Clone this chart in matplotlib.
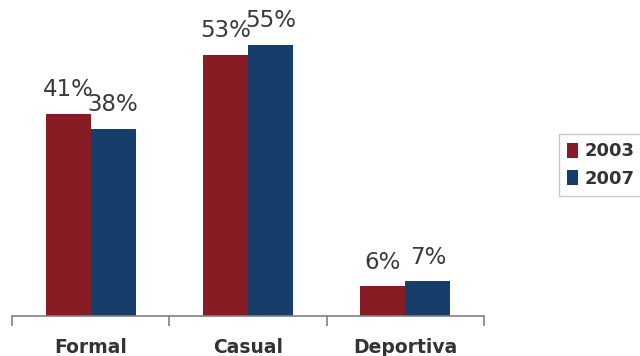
import numpy as np
import matplotlib.pyplot as plt

categories = ["Formal", "Casual", "Deportiva"]
years = ["2003", "2007"]
values_2003 = [41, 53, 6]
values_2007 = [38, 55, 7]
colors = ["#871c24", "#173d6b"]

fig = plt.figure(figsize=(6.4, 3.56), dpi=100)
ax = fig.add_axes([12 / 640, 40 / 356, 472 / 640, 296 / 356])

x = np.arange(len(categories))
w = 0.286
bars_a = ax.bar(x - w / 2, values_2003, w, color=colors[0], label=years[0])
bars_b = ax.bar(x + w / 2, values_2007, w, color=colors[1], label=years[1])

for bars in (bars_a, bars_b):
    for b in bars:
        ax.annotate(f"{b.get_height():.0f}%", (b.get_x() + b.get_width() / 2, b.get_height()),
                    xytext=(0, 9), textcoords="offset points", ha="center", va="bottom",
                    fontsize=16.5, color="#3a3a3a")

ax.set_xlim(-0.5, 2.5)
ax.set_ylim(0, 60)
ax.set_yticks([])
for s in ("top", "right", "left"):
    ax.spines[s].set_visible(False)
ax.spines["bottom"].set_color("#808080")
ax.spines["bottom"].set_linewidth(1.2)

# boundary ticks between categories
ax.set_xticks([-0.5, 0.5, 1.5, 2.5])
ax.set_xticklabels([])
ax.tick_params(axis="x", direction="out", length=7, width=1.2, color="#808080")
for i, c in enumerate(categories):
    ax.text(i, -0.105, c, transform=ax.get_xaxis_transform(), ha="center", va="center",
            fontsize=13.5, fontweight="bold", color="#333333")

leg = fig.legend(loc="center left", bbox_to_anchor=(559 / 640, 1 - 165 / 356),
                 borderaxespad=0, frameon=True, fancybox=False, handlelength=0.6,
                 handleheight=0.9, handletextpad=0.35, borderpad=0.45, labelspacing=0.5,
                 prop={"weight": "bold", "size": 13})
leg.get_frame().set_edgecolor("#bbbbbb")
for t in leg.get_texts():
    t.set_color("#333333")

fig.savefig("out.png", dpi=100)
